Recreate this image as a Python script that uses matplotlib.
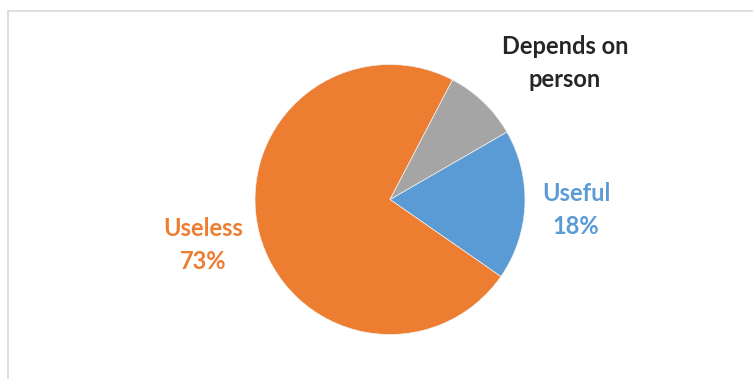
import matplotlib.pyplot as plt
from matplotlib.patches import Rectangle

categories = ['Useful', 'Useless', 'Depends on\nperson']
shares = [18, 73, 9]
show_pct = [True, True, False]
colors = ['#5B9BD5', '#ED7D31', '#A5A5A5']
label_colors = ['#5B9BD5', '#ED7D31', '#262626']
# label centres in pixels (x, y from top)
label_pos = [(576, 210), (203, 245), (565, 63)]

W, H = 753, 379
fig = plt.figure(figsize=(W / 100, H / 100), dpi=100)
fig.patch.set_facecolor('white')

# light chart-area frame
fig.patches.append(Rectangle((8 / W, -0.1), 1.2, 1.1 - 11 / H,
                             transform=fig.transFigure, fill=False,
                             edgecolor='#D9D9D9', linewidth=1.2))

cx, cy, r = 390, 199.5, 135
ax = fig.add_axes([(cx - r) / W, (H - cy - r) / H, 2 * r / W, 2 * r / H])
ax.pie(shares, colors=colors, startangle=30, counterclock=False,
       radius=1, wedgeprops=dict(linewidth=0.5, edgecolor='#F2F2F2'))
ax.set_xlim(-1, 1)
ax.set_ylim(-1, 1)
ax.set_aspect('equal')
ax.axis('off')

for name, val, pct, col, (px, py) in zip(categories, shares, show_pct, label_colors, label_pos):
    txt = f'{name}\n{val}%' if pct else name
    fig.text(px / W, 1 - py / H, txt, ha='center', va='center', color=col,
             fontsize=17, fontweight='bold', family=['Lato', 'DejaVu Sans'],
             linespacing=1.55)

fig.savefig('out.png', dpi=100)
